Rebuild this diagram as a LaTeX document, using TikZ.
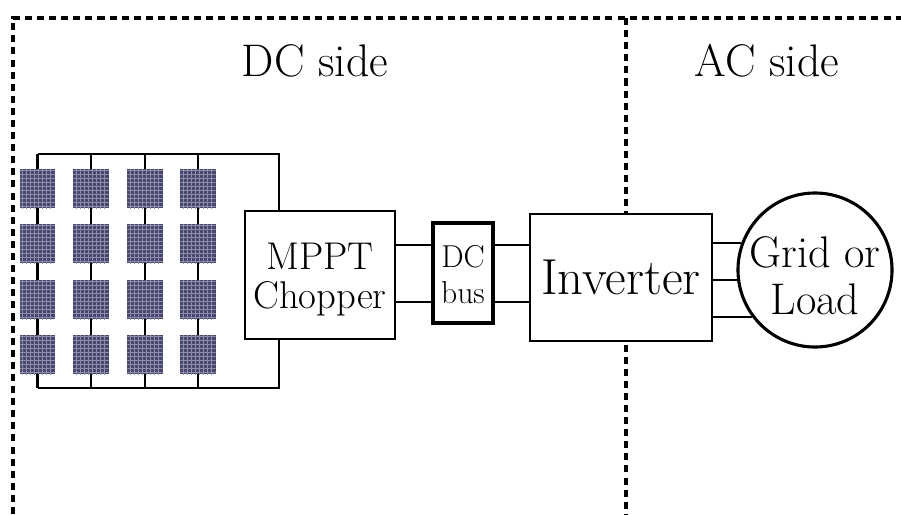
\documentclass[tikz,border=0pt]{standalone}
\begin{document}
\begin{tikzpicture}[
        x=0.025cm, y=-0.025cm,
        side/.style={font=\fontsize{32.5}{38}\selectfont},
        frame/.style={line width=2.9pt, dash pattern=on 5pt off 3.6pt},
        wire/.style={line width=2pt},
        acwire/.style={line width=1.5pt},
        block/.style={rectangle, draw, fill=white, line width=1.9pt, align=center, inner sep=0pt},
        panel/.style={rectangle, fill=panelblue, inner sep=0pt, minimum width=0.875cm, minimum height=0.975cm,
            path picture={
                \begin{scope}[shift={(path picture bounding box.center)}, draw=panelline, line width=0.3pt]
                    \foreach \k in {-15,-11,...,15} \draw (\k,-20) -- (\k,20);
                    \foreach \k in {-18,-14,...,18} \draw (-18,\k) -- (18,\k);
                \end{scope}
            }}
    ]
        \definecolor{panelblue}{HTML}{47476F}
        \definecolor{panelline}{HTML}{8E8EAC}
        \useasboundingbox (0,0) rectangle (901,514);

        \coordinate (frametl) at (13,18);
        \coordinate (framebl) at (13,514);
        \coordinate (frametr) at (901,18);
        \coordinate (midtop) at (626,18);
        \coordinate (midbot) at (626,514);
        \draw[frame] (framebl) -- (frametl) -- (frametr);
        \draw[frame] (midtop) -- (midbot);

        \node[side] (dcside) at (315,61) {DC side};
        \node[side] (acside) at (767,61) {AC side};

        \foreach \c/\x in {1/37.5,2/91,3/145,4/198} {
            \foreach \r/\y in {1/188.5,2/243.5,3/299.5,4/354.5} {
                \node[panel] (p\r\c) at (\x,\y) {};
            }
        }

        \node[block, minimum width=3.75cm, minimum height=3.2cm, font=\fontsize{27.5}{28}\selectfont] (mppt) at (320,275) {\rule{0pt}{25pt}MPPT\\Chopper};
        \node[block, line width=2.8pt, minimum width=1.5cm, minimum height=2.5cm, font=\fontsize{22.5}{26}\selectfont] (bus) at (463,273) {\rule{0pt}{18pt}DC\\bus};
        \node[block, minimum width=4.55cm, minimum height=3.175cm, font=\fontsize{36}{42}\selectfont] (inv) at (621,277.5) {Inverter};
        \node[block, circle, line width=2.2pt, minimum size=3.85cm, font=\fontsize{31.5}{34}\selectfont] (grid) at (815,270) {\rule{0pt}{30pt}\makebox[2.8cm][c]{Grid or}\\Load};

        \coordinate (topbus) at (279,154);
        \coordinate (botbus) at (279,388);
        \coordinate (wireup) at (0,245);
        \coordinate (wiredn) at (0,302);

        \foreach \c in {1,2,3,4} {
            \draw[wire] (p1\c.north) -- (p1\c.north |- topbus);
            \draw[wire] (p1\c.south) -- (p2\c.north);
            \draw[wire] (p2\c.south) -- (p3\c.north);
            \draw[wire] (p3\c.south) -- (p4\c.north);
            \draw[wire] (p4\c.south) -- (p4\c.south |- botbus);
        }
        \draw[wire] (p11.north |- topbus) -- (topbus) -- (topbus |- mppt.north);
        \draw[wire] (p41.south |- botbus) -- (botbus) -- (botbus |- mppt.south);

        \draw[wire] (mppt.east |- wireup) -- (bus.west |- wireup);
        \draw[wire] (mppt.east |- wiredn) -- (bus.west |- wiredn);
        \draw[wire] (bus.east |- wireup) -- (inv.west |- wireup);
        \draw[wire] (bus.east |- wiredn) -- (inv.west |- wiredn);

        \draw[acwire] (inv.east |- grid.160) -- (grid.160);
        \draw[acwire] (inv.east |- grid.187) -- (grid.187);
        \draw[acwire] (inv.east |- grid.217) -- (grid.217);
    \end{tikzpicture}
\end{document}
